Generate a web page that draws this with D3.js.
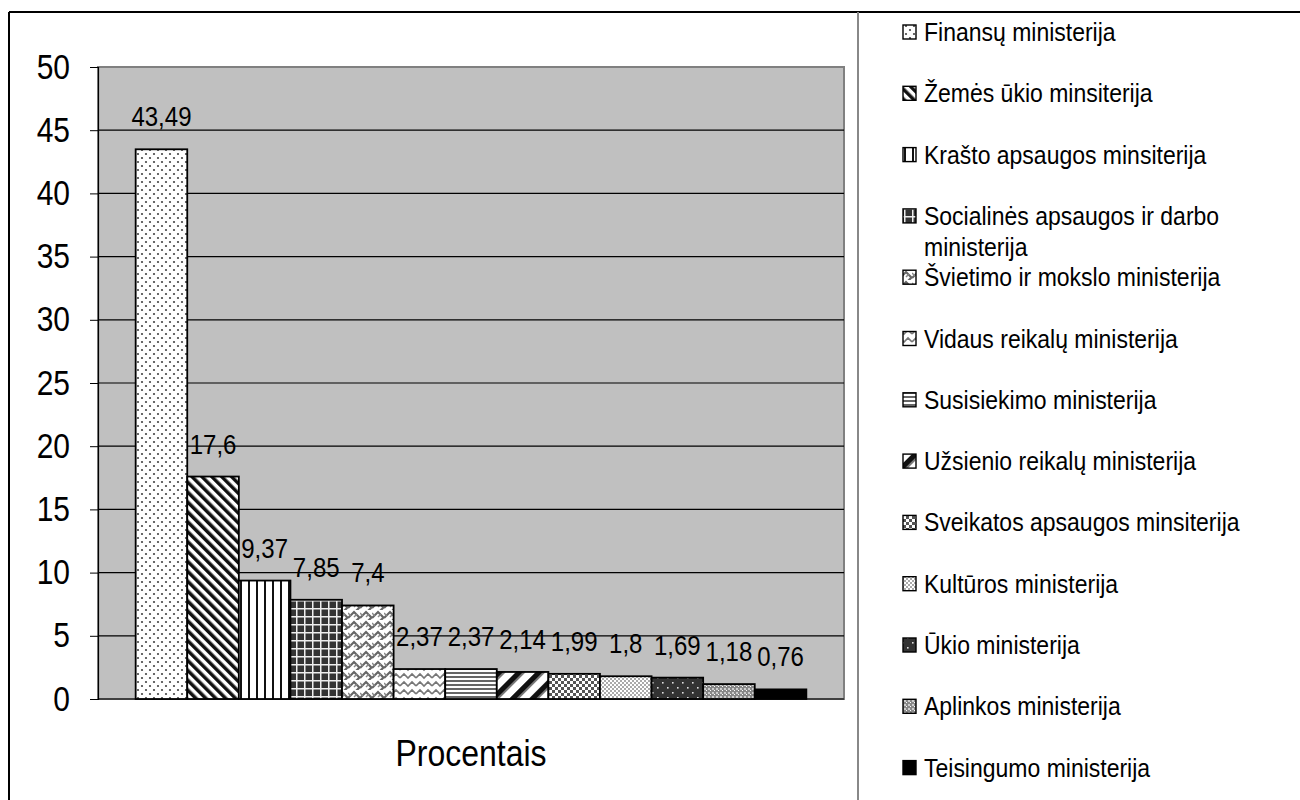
<!DOCTYPE html>
<html><head><meta charset="utf-8">
<script src="https://cdn.jsdelivr.net/npm/d3@7"></script>
<style>body{margin:0;background:#fff;} text{font-family:"Liberation Sans",Arial,sans-serif;}</style>
</head><body>
<svg id="c" width="1300" height="800"></svg>
<script>
const categories = ["Finansų ministerija","Žemės ūkio minsiterija","Krašto apsaugos minsiterija","Socialinės apsaugos ir darbo ministerija","Švietimo ir mokslo ministerija","Vidaus reikalų ministerija","Susisiekimo ministerija","Užsienio reikalų ministerija","Sveikatos apsaugos minsiterija","Kultūros ministerija","Ūkio ministerija","Aplinkos ministerija","Teisingumo ministerija"];
const values = [43.49,17.6,9.37,7.85,7.4,2.37,2.37,2.14,1.99,1.8,1.69,1.18,0.76];
const labels = ["43,49","17,6","9,37","7,85","7,4","2,37","2,37","2,14","1,99","1,8","1,69","1,18","0,76"];
const yTicks = [0,5,10,15,20,25,30,35,40,45,50];
const axisTitle = "Procentais";

const SY = 1.15; // vertical stretch of glyphs seen in reference
const svg = d3.select("#c");
const defs = svg.append("defs");
function pat(id, w, h, bg, draw, transform){
  const p = defs.append("pattern").attr("id",id).attr("patternUnits","userSpaceOnUse").attr("width",w).attr("height",h);
  if(transform) p.attr("patternTransform",transform);
  p.append("rect").attr("width",w).attr("height",h).attr("fill",bg);
  draw(p);
}
pat("p0",8,8,"#fff",p=>{p.append("circle").attr("cx",2).attr("cy",2).attr("r",1.1).attr("fill","#444");p.append("circle").attr("cx",6).attr("cy",6).attr("r",1.1).attr("fill","#444");});
pat("p1",7,7,"#fff",p=>{p.append("rect").attr("width",3.5).attr("height",7).attr("fill","#111");},"rotate(-45)");
pat("p2",8,8,"#fff",p=>{p.append("rect").attr("x",0).attr("width",2).attr("height",8).attr("fill","#111");});
pat("p3",8,8,"#333",p=>{p.append("rect").attr("width",8).attr("height",1.5).attr("fill","#eee");p.append("rect").attr("width",1.5).attr("height",8).attr("fill","#eee");});
pat("p4",12,10,"#fff",p=>{p.append("path").attr("d","M0,8 L6,2 L12,8 M-6,3 L0,-3 M6,13 L12,7").attr("stroke","#666").attr("stroke-width",2.2).attr("fill","none");p.append("path").attr("d","M0,3 L3,6 M6,7 L9,4").attr("stroke","#888").attr("stroke-width",1.5).attr("fill","none");});
pat("p5",16,8,"#fff",p=>{p.append("path").attr("d","M0,6 L4,2 L8,6 L12,2 L16,6").attr("stroke","#777").attr("stroke-width",1.6).attr("fill","none");});
pat("p6",4,4,"#fff",p=>{p.append("rect").attr("width",4).attr("height",2).attr("fill","#666");});
pat("p7",14,14,"#fff",p=>{p.append("rect").attr("width",5).attr("height",14).attr("fill","#111");p.append("rect").attr("x",5).attr("width",2).attr("height",14).attr("fill","#777");},"rotate(45)");
pat("p8",6,6,"#fff",p=>{p.append("rect").attr("width",3).attr("height",3).attr("fill","#555");p.append("rect").attr("x",3).attr("y",3).attr("width",3).attr("height",3).attr("fill","#555");});
pat("p9",4,4,"#fff",p=>{p.append("rect").attr("width",2).attr("height",2).attr("fill","#aaa");p.append("rect").attr("x",2).attr("y",2).attr("width",2).attr("height",2).attr("fill","#aaa");});
pat("p10",10,10,"#333",p=>{p.append("rect").attr("x",2).attr("y",2).attr("width",1.6).attr("height",1.6).attr("fill","#ddd");p.append("rect").attr("x",7).attr("y",7).attr("width",1.6).attr("height",1.6).attr("fill","#ddd");});
pat("p11",4,4,"#888",p=>{p.append("rect").attr("width",2).attr("height",2).attr("fill","#ccc");p.append("rect").attr("x",2).attr("y",2).attr("width",1).attr("height",1).attr("fill","#fff");});
pat("p12",4,4,"#000",p=>{});

// frame
svg.append("line").attr("x1",9).attr("x2",1300).attr("y1",12).attr("y2",12).attr("stroke","#000").attr("stroke-width",2);
svg.append("line").attr("x1",9).attr("x2",9).attr("y1",12).attr("y2",800).attr("stroke","#000").attr("stroke-width",2);
svg.append("line").attr("x1",858).attr("x2",858).attr("y1",12).attr("y2",800).attr("stroke","#888").attr("stroke-width",2);

const L=98,R=844,T=67,B=699;
const y = d3.scaleLinear().domain([0,50]).range([B,T]);
const x = d3.scaleBand().domain(categories).range([L,R]).paddingInner(0).paddingOuter(0.73);

svg.append("rect").attr("x",L).attr("y",T).attr("width",R-L).attr("height",B-T).attr("fill","#c0c0c0").attr("stroke","#808080").attr("stroke-width",2);
svg.append("g").selectAll("line").data(yTicks.filter(d=>d>0&&d<50)).join("line")
  .attr("x1",L).attr("x2",R).attr("y1",d=>y(d)).attr("y2",d=>y(d)).attr("stroke","#000").attr("stroke-width",1.2);

const yAxis = d3.axisLeft(y).tickValues(yTicks).tickSize(8).tickPadding(20).tickFormat(d=>d);
const ga = svg.append("g").attr("transform",`translate(${L},0)`).call(yAxis);
ga.select(".domain").attr("stroke","#000").attr("stroke-width",1.2);
ga.selectAll(".tick line").attr("stroke","#000");
ga.selectAll(".tick text").attr("font-size",30).attr("fill","#000").attr("transform",`scale(1,${SY})`).style("font-family",'"Liberation Sans",Arial,sans-serif');
svg.append("line").attr("x1",L).attr("x2",R).attr("y1",B).attr("y2",B).attr("stroke","#000").attr("stroke-width",1.2);

svg.append("g").selectAll("rect").data(categories).join("rect")
  .attr("x",d=>x(d)).attr("width",x.bandwidth())
  .attr("y",(d,i)=>y(values[i])).attr("height",(d,i)=>B-y(values[i]))
  .attr("fill",(d,i)=>`url(#p${i})`).attr("stroke","#000").attr("stroke-width",1.8);

svg.append("g").selectAll("text").data(categories).join("text")
  .attr("transform",(d,i)=>`translate(${x(d)+x.bandwidth()/2},${y(values[i])-23}) scale(1,${SY})`)
  .attr("text-anchor","middle").attr("font-size",24).attr("fill","#000").text((d,i)=>labels[i]);

svg.append("text").attr("transform",`translate(${(L+R)/2},766) scale(1,${SY})`).attr("text-anchor","middle").attr("font-size",32).attr("fill","#000").text(axisTitle);

// legend
const lg = svg.append("g");
categories.forEach((c,i)=>{
  const cy = 32 + i*61.3;
  lg.append("rect").attr("x",903).attr("y",cy-7).attr("width",13).attr("height",14).attr("fill",`url(#p${i})`).attr("stroke","#000").attr("stroke-width",1.4);
  const t = lg.append("text").attr("transform",`translate(924,${cy+9}) scale(1,${SY})`).attr("font-size",23).attr("fill","#000");
  const words = c.split(" ");
  let line = [], tsp = t.append("tspan").attr("x",0).attr("dy",0);
  words.forEach(w=>{
    line.push(w); tsp.text(line.join(" "));
    if(tsp.node().getComputedTextLength()>365 && line.length>1){
      line.pop(); tsp.text(line.join(" ")); line=[w];
      tsp = t.append("tspan").attr("x",0).attr("dy",27).text(w);
    }
  });
});
</script>
</body></html>
